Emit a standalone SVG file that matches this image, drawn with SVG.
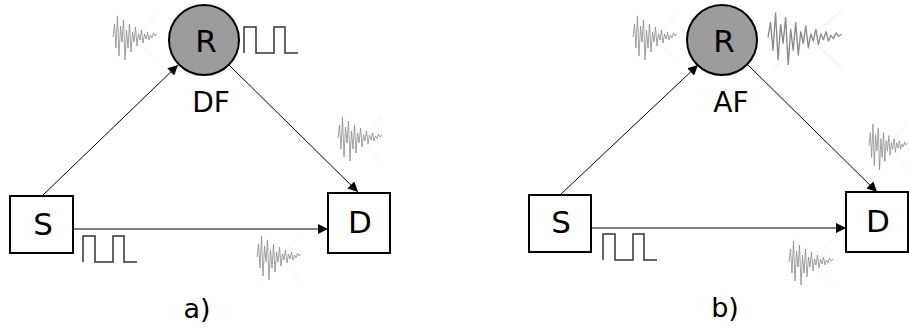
<svg xmlns="http://www.w3.org/2000/svg" xmlns:xlink="http://www.w3.org/1999/xlink" width="909" height="334" viewBox="0 0 909 334">
  <style>
    .box { fill: #ffffff; stroke: #000000; stroke-width: 2; }
    .relay { fill: #9c9c9c; stroke: #000000; stroke-width: 2; }
    .lbl { font-family: "DejaVu Sans", sans-serif; fill: #000000; text-anchor: middle; }
    .link { stroke: #000000; stroke-width: 1; fill: none; }
    .pulse { stroke: #333333; stroke-width: 1.5; fill: none; }
    .noise { stroke: #8a8a8a; stroke-width: 0.8; fill: none; stroke-linejoin: round; }
    .ghost { stroke: #f4f4f4; stroke-width: 1; fill: none; }
  </style>
  <defs>
    <marker id="head" viewBox="0 0 10 10" refX="10" refY="5" markerWidth="10" markerHeight="10" markerUnits="userSpaceOnUse" orient="auto">
      <path d="M0,0 L10,5 L0,10 z" fill="#000000"/>
    </marker>
    <!-- decaying noisy waveform, 44 x 50 unit box -->
    <g id="noise">
      <path class="ghost" d="M4,2 L44,50 M44,2 L4,50"/>
      <path class="noise" d="M0,25 L1.5,12 L3,36 L4.5,4 L6,44 L7.5,14 L9,30 L10.5,8 L12,48 L13.5,18 L15,36 L16.5,12 L18,40 L19.5,20 L21,30 L22.5,15 L24,34 L25.5,22 L27,28 L28.5,18 L30,31 L31.5,22 L33,27 L34.5,20 L36,28 L37.5,23 L39,26 L40.5,21 L42,24 L44,22"/>
    </g>
    <!-- on-off keyed pulse pair -->
    <path id="pulse" class="pulse" d="M0,26 L0,0 L12,0 L12,26 L30,26 L30,0 L41,0 L41,26 L54,26"/>
  </defs>

  <!-- panel a: decode-and-forward -->
  <g id="connectors-a">
    <line class="link" x1="42" y1="196" x2="178" y2="65" marker-end="url(#head)"/>
    <line class="link" x1="229" y1="65" x2="358" y2="192" marker-end="url(#head)"/>
    <line class="link" x1="73" y1="229" x2="328" y2="229" marker-end="url(#head)"/>
  </g>
  <g id="relay-a">
    <circle class="relay" cx="204" cy="40" r="35"/>
    <text class="lbl" x="206" y="52" font-size="31">R</text>
  </g>
  <g id="source-a">
    <rect class="box" x="10" y="196" width="63" height="57"/>
    <text class="lbl" x="43" y="235" font-size="31">S</text>
  </g>
  <g id="dest-a">
    <rect class="box" x="328" y="193" width="62" height="60"/>
    <text class="lbl" x="360" y="233" font-size="31">D</text>
  </g>
  <text class="lbl" x="211" y="112" font-size="28">DF</text>
  <use xlink:href="#noise" transform="translate(113,12)"/>
  <use xlink:href="#pulse" transform="translate(244,27)"/>
  <use xlink:href="#noise" transform="translate(338,113)"/>
  <use xlink:href="#pulse" transform="translate(83,236)"/>
  <use xlink:href="#noise" transform="translate(257,232)"/>
  <text class="lbl" x="197" y="318" font-size="27">a)</text>

  <!-- panel b: amplify-and-forward -->
  <g id="connectors-b">
    <line class="link" x1="560" y1="195" x2="698" y2="65" marker-end="url(#head)"/>
    <line class="link" x1="748" y1="65" x2="877" y2="192" marker-end="url(#head)"/>
    <line class="link" x1="591" y1="228" x2="846" y2="228" marker-end="url(#head)"/>
  </g>
  <g id="relay-b">
    <circle class="relay" cx="722" cy="40" r="35"/>
    <text class="lbl" x="724" y="52" font-size="31">R</text>
  </g>
  <g id="source-b">
    <rect class="box" x="529" y="195" width="62" height="57"/>
    <text class="lbl" x="561" y="233" font-size="31">S</text>
  </g>
  <g id="dest-b">
    <rect class="box" x="846" y="192" width="62" height="60"/>
    <text class="lbl" x="878" y="232" font-size="31">D</text>
  </g>
  <text class="lbl" x="731" y="112" font-size="28">AF</text>
  <use xlink:href="#noise" transform="translate(633,12)"/>
  <use xlink:href="#noise" transform="translate(768,8) scale(1.68,1.18)"/>
  <use xlink:href="#noise" transform="translate(869,120) scale(0.88,1.04)"/>
  <use xlink:href="#pulse" transform="translate(603,234)"/>
  <use xlink:href="#noise" transform="translate(789,237)"/>
  <text class="lbl" x="725" y="317" font-size="27">b)</text>
</svg>
